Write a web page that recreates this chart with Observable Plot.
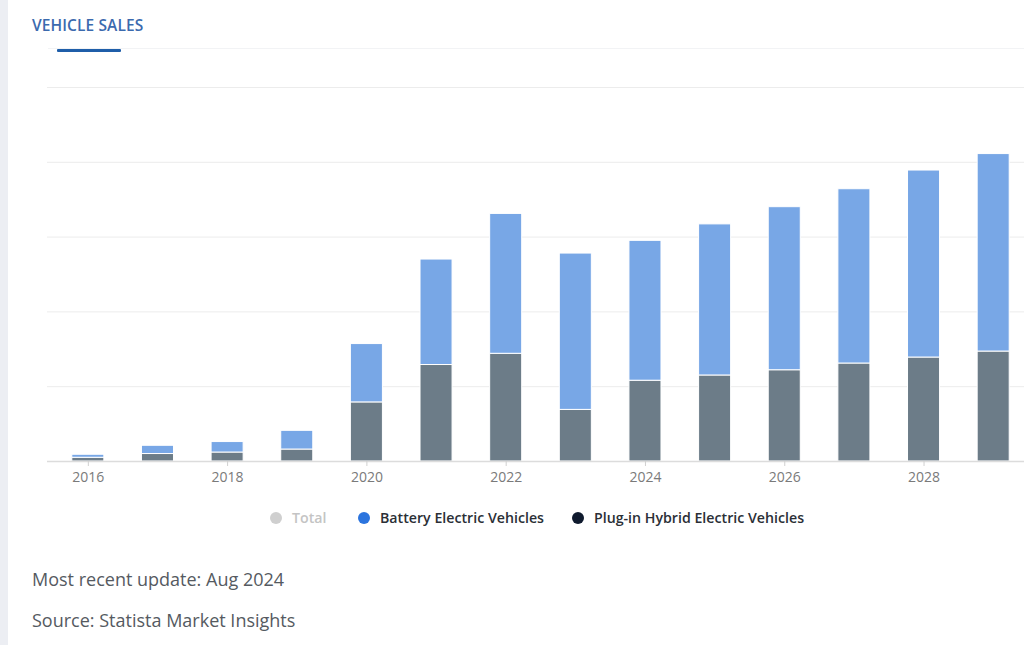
<!DOCTYPE html>
<html>
<head>
<meta charset="utf-8">
<script src="https://cdn.jsdelivr.net/npm/d3@7"></script>
<script src="https://cdn.jsdelivr.net/npm/@observablehq/plot@0.6"></script>
<style>
  html, body { margin: 0; padding: 0; background: #fff; overflow: hidden; }
  #page { position: relative; width: 1024px; height: 645px; background: #fff; font-family: "Open Sans", sans-serif; }
  #strip { position: absolute; left: 0; top: 0; width: 8px; height: 645px; background: #eceef3; }
  #title { position: absolute; left: 32px; top: 14px; font-size: 15.5px; font-weight: 600; color: #3b6aae; letter-spacing: 0.1px; }
  #tabline { position: absolute; left: 57px; top: 49px; width: 64px; height: 3px; background: #1f5ea9; border-radius: 1px; }
  #sep { position: absolute; left: 48px; top: 48px; right: 0; height: 1px; background: #f2f3f5; }
  #chart { position: absolute; left: 0; top: 60px; }
  #legend { position: absolute; top: 508px; left: 0; width: 1024px; height: 20px; font-size: 14.2px; font-weight: 600; color: #2b2f36; }
  .item { position: absolute; top: 0; white-space: nowrap; line-height: 20px; }
  .dot { position: absolute; top: 4px; width: 12px; height: 12px; border-radius: 50%; }
  .foot { position: absolute; left: 32px; font-size: 18px; color: #555a61; }
</style>
</head>
<body>
<div id="page">
  <div id="strip"></div>
  <div id="title">VEHICLE SALES</div>
  <div id="sep"></div>
  <div id="tabline"></div>
  <div id="chart"></div>
  <div id="legend"></div>
  <div class="foot" style="top:567px">Most recent update: Aug 2024</div>
  <div class="foot" style="top:608px">Source: Statista Market Insights</div>
</div>
<script>
// Data (arbitrary units; the original has no y-axis labels)
const years = [2016, 2017, 2018, 2019, 2020, 2021, 2022, 2023, 2024, 2025, 2026, 2027, 2028, 2029];
const bev  = [4, 11, 14, 25, 78, 141, 187, 209, 187, 202, 218, 233, 250, 264];
const phev = [5, 10, 12, 16, 79, 129, 144, 69, 108, 115, 122, 131, 139, 147];
const tickYears = [2016, 2018, 2020, 2022, 2024, 2026, 2028];
const gridValues = [100, 200, 300, 400, 500];
const seriesNames = ["Plug-in Hybrid Electric Vehicles", "Battery Electric Vehicles"];
const barColors = ["#6c7c88", "#78a7e6"];
const legendItems = [
  {label: "Total", dot: "#cfcfcf", text: "#c4c4c4", left: 270},
  {label: "Battery Electric Vehicles", dot: "#2b74de", text: "#2b2f36", left: 358},
  {label: "Plug-in Hybrid Electric Vehicles", dot: "#0f1a2e", text: "#2b2f36", left: 572}
];

const data = [];
years.forEach((yr, i) => {
  data.push({year: yr, series: seriesNames[0], value: phev[i]});
  data.push({year: yr, series: seriesNames[1], value: bev[i]});
});

const chart = Plot.plot({
  width: 1024,
  height: 430,
  marginTop: 27,
  marginBottom: 29,
  marginLeft: 47,
  marginRight: 0,
  style: {fontFamily: "Open Sans, sans-serif", fontSize: "14px", color: "#777", background: "transparent"},
  x: {type: "band", domain: years, range: [53, 1028], paddingInner: 0.54, paddingOuter: 0.27, round: false,
      label: null, axis: null},
  y: {domain: [0, 500], axis: null},
  color: {domain: seriesNames, range: barColors},
  marks: [
    Plot.ruleY(gridValues, {stroke: "#ececec", strokeWidth: 1}),
    Plot.barY(data, {x: "year", y: "value", fill: "series", order: seriesNames, stroke: "white", strokeWidth: 1}),
    Plot.ruleY([0], {stroke: "#dcdcdc", strokeWidth: 1.5}),
    Plot.axisX(tickYears, {tickSize: 5, tickPadding: 6, stroke: "#d0d0d0", fill: "#7a7a7a", label: null,
      tickFormat: d => String(d), fontSize: 14, letterSpacing: 0.5})
  ]
});
document.getElementById("chart").appendChild(chart);

const legend = document.getElementById("legend");
legendItems.forEach(it => {
  const el = document.createElement("div");
  el.className = "item";
  el.style.left = it.left + "px";
  el.innerHTML = `<span class="dot" style="left:0;background:${it.dot}"></span><span style="margin-left:22px;color:${it.text}">${it.label}</span>`;
  legend.appendChild(el);
});
</script>
</body>
</html>
